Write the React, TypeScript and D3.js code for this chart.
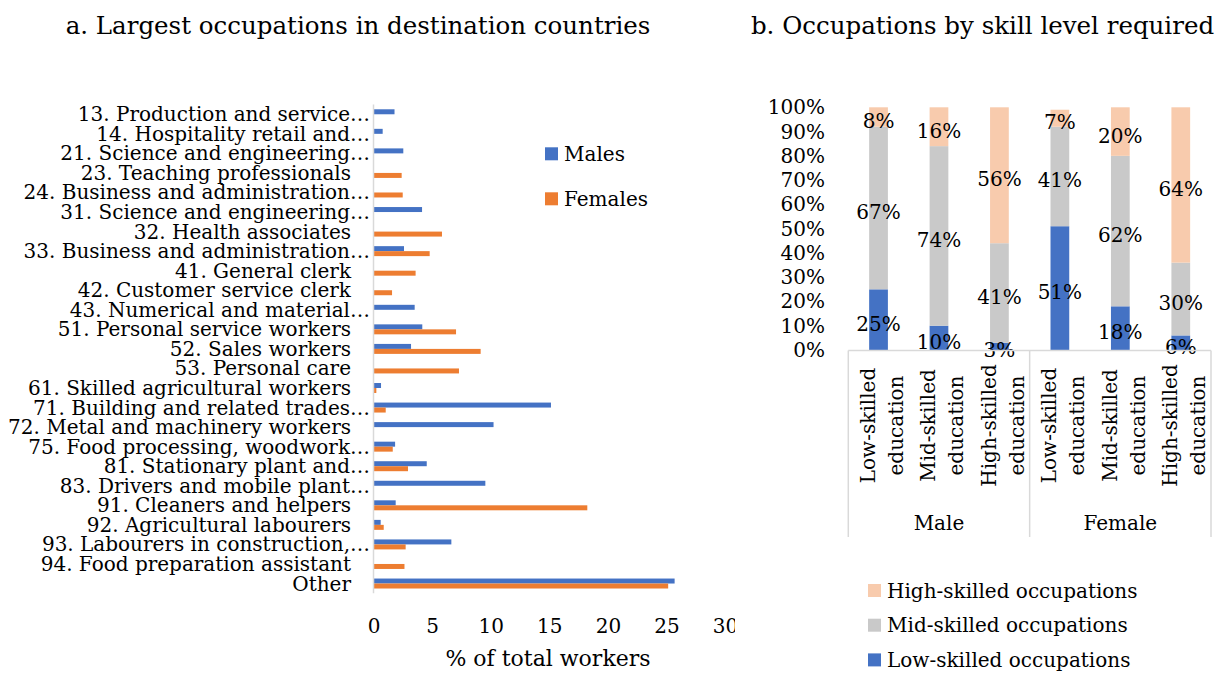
import React from "react";
import * as d3 from "d3";

// panel a: largest occupations (% of total workers)
const occupations = [
  "13. Production and service…",
  "14. Hospitality retail and…",
  "21. Science and engineering…",
  "23. Teaching professionals",
  "24. Business and administration…",
  "31. Science and engineering…",
  "32. Health associates",
  "33. Business and administration…",
  "41. General clerk",
  "42. Customer service clerk",
  "43. Numerical and material…",
  "51. Personal service workers",
  "52. Sales workers",
  "53. Personal care",
  "61. Skilled agricultural workers",
  "71. Building and related trades…",
  "72. Metal and machinery workers",
  "75. Food processing, woodwork…",
  "81. Stationary plant and…",
  "83. Drivers and mobile plant…",
  "91. Cleaners and helpers",
  "92. Agricultural labourers",
  "93. Labourers in construction,…",
  "94. Food preparation assistant",
  "Other",
];
const males = [1.75, 0.74, 2.5, 0, 0, 4.1, 0, 2.56, 0, 0, 3.47, 4.12, 3.16, 0, 0.6, 15.1, 10.2, 1.8, 4.5, 9.5, 1.85, 0.57, 6.6, 0, 25.65];
const females = [0, 0, 0, 2.36, 2.45, 0, 5.8, 4.75, 3.55, 1.54, 0, 7.0, 9.1, 7.25, 0.2, 1.0, 0, 1.6, 2.9, 0, 18.2, 0.83, 2.7, 2.6, 25.1];
const sexSeries = ["Males", "Females"];
const xTicks = [0, 5, 10, 15, 20, 25, 30];

// panel b: occupations by skill level required
const genders = ["Male", "Female"];
const educations = ["Low-skilled education", "Mid-skilled education", "High-skilled education"];
const lowSkilled = [25, 10, 3, 51, 18, 6];
const midSkilled = [67, 74, 41, 41, 62, 30];
const highSkilled = [8, 16, 56, 7, 20, 64];
const skillKeys = ["Low-skilled occupations", "Mid-skilled occupations", "High-skilled occupations"];
const yTicks = [0, 10, 20, 30, 40, 50, 60, 70, 80, 90, 100];

const FONT = "'DejaVu Serif', serif";
const sexColors = { Males: "#4472C4", Females: "#ED7D31" };
const skillColors = {
  "Low-skilled occupations": "#4472C4",
  "Mid-skilled occupations": "#C9C9C9",
  "High-skilled occupations": "#F8CBAD",
};

const LeftChart = () => {
  const x = d3.scaleLinear().domain([0, 30]).range([374, 725.6]);
  const y = d3.scaleBand().domain(occupations).range([104.5, 593.3]).paddingInner(0.49).paddingOuter(0.245);
  const sub = d3.scaleBand().domain(sexSeries).range([0, y.bandwidth()]);
  const vals = { Males: males, Females: females };

  return (
    <g>
      <text x={358} y={34} textAnchor="middle" fontSize={24.5}>
        a. Largest occupations in destination countries
      </text>
      <defs>
        <clipPath id="clipA">
          <rect x={0} y={0} width={735} height={673} />
        </clipPath>
      </defs>
      {occupations.map((c, i) => (
        <g key={c}>
          {sexSeries.map((s) =>
            vals[s][i] > 0 ? (
              <rect
                key={s}
                x={x(0)}
                y={y(c)! + sub(s)!}
                width={x(vals[s][i]) - x(0)}
                height={sub.bandwidth()}
                fill={sexColors[s]}
              />
            ) : null
          )}
          <text
            x={c.endsWith("…") ? 370 : 351}
            y={y(c)! + y.bandwidth() / 2}
            dy="0.35em"
            textAnchor="end"
            fontSize={20}
          >
            {c}
          </text>
        </g>
      ))}
      <line x1={373.5} x2={373.5} y1={104.5} y2={593.3} stroke="#D9D9D9" strokeWidth={1.5} />
      <g clipPath="url(#clipA)">
        {xTicks.map((t) => (
          <text key={t} x={x(t)} y={633} textAnchor="middle" fontSize={20}>
            {t}
          </text>
        ))}
      </g>
      <text x={548} y={666} textAnchor="middle" fontSize={22}>
        % of total workers
      </text>
      {sexSeries.map((s, i) => (
        <g key={s} transform={`translate(545,${147.3 + i * 45})`}>
          <rect width={13} height={13} fill={sexColors[s]} />
          <text x={19} y={6.5} dy="0.35em" fontSize={20}>
            {s}
          </text>
        </g>
      ))}
    </g>
  );
};

const RightChart = () => {
  const rows = lowSkilled.map((_, i) => ({
    id: i,
    "Low-skilled occupations": lowSkilled[i],
    "Mid-skilled occupations": midSkilled[i],
    "High-skilled occupations": highSkilled[i],
  }));
  const ids = rows.map((r) => String(r.id));
  const x = d3.scaleBand().domain(ids).range([848.3, 1211]).paddingInner(0.69).paddingOuter(0.345);
  const y = d3.scaleLinear().domain([0, 100]).range([350, 107.3]);
  const stacked = d3.stack().keys(skillKeys)(rows as any);
  const groupW = (1211 - 848.3) / genders.length;

  return (
    <g>
      <text x={982.5} y={34} textAnchor="middle" fontSize={24.5}>
        b. Occupations by skill level required
      </text>
      {yTicks.map((t) => (
        <text key={t} x={825} y={y(t)} dy="0.35em" textAnchor="end" fontSize={20}>
          {t}%
        </text>
      ))}
      {stacked.map((layer) => (
        <g key={layer.key} fill={skillColors[layer.key]}>
          {layer.map((d, i) => (
            <rect key={i} x={x(ids[i])} y={y(d[1])} width={x.bandwidth()} height={y(d[0]) - y(d[1])} />
          ))}
        </g>
      ))}
      {stacked.map((layer) =>
        layer.map((d, i) => (
          <text
            key={layer.key + i}
            x={x(ids[i])! + x.bandwidth() / 2}
            y={(y(d[0]) + y(d[1])) / 2 + 4}
            dy="0.35em"
            textAnchor="middle"
            fontSize={20}
          >
            {d[1] - d[0]}%
          </text>
        ))
      )}
      <g stroke="#D9D9D9" strokeWidth={1.5}>
        <line x1={848.3} x2={1211} y1={350.5} y2={350.5} />
        {[0, 1, 2].map((k) => (
          <line key={k} x1={848.3 + k * groupW} x2={848.3 + k * groupW} y1={350.5} y2={537} />
        ))}
      </g>
      {ids.map((id, i) => {
        const [a, b] = educations[i % 3].split(" ");
        return (
          <text
            key={id}
            transform={`translate(${x(id)! + x.bandwidth() / 2},425.5) rotate(-90)`}
            textAnchor="middle"
            fontSize={20}
          >
            <tspan x={0} y={-3.5}>{a}</tspan>
            <tspan x={0} y={24.5}>{b}</tspan>
          </text>
        );
      })}
      {genders.map((g, k) => (
        <text key={g} x={848.3 + groupW * (k + 0.5)} y={523} dy="0.35em" textAnchor="middle" fontSize={20}>
          {g}
        </text>
      ))}
      {[...skillKeys].reverse().map((s, i) => (
        <g key={s} transform={`translate(868,${584 + i * 34.7})`}>
          <rect width={13} height={13} fill={skillColors[s]} />
          <text x={19} y={6.5} dy="0.35em" fontSize={20}>
            {s}
          </text>
        </g>
      ))}
    </g>
  );
};

export default function App() {
  return (
    <svg
      width={1222}
      height={673}
      style={{ position: "absolute", left: 0, top: 0, background: "#fff" }}
      fontFamily={FONT}
      fill="#000"
    >
      <LeftChart />
      <RightChart />
    </svg>
  );
}
